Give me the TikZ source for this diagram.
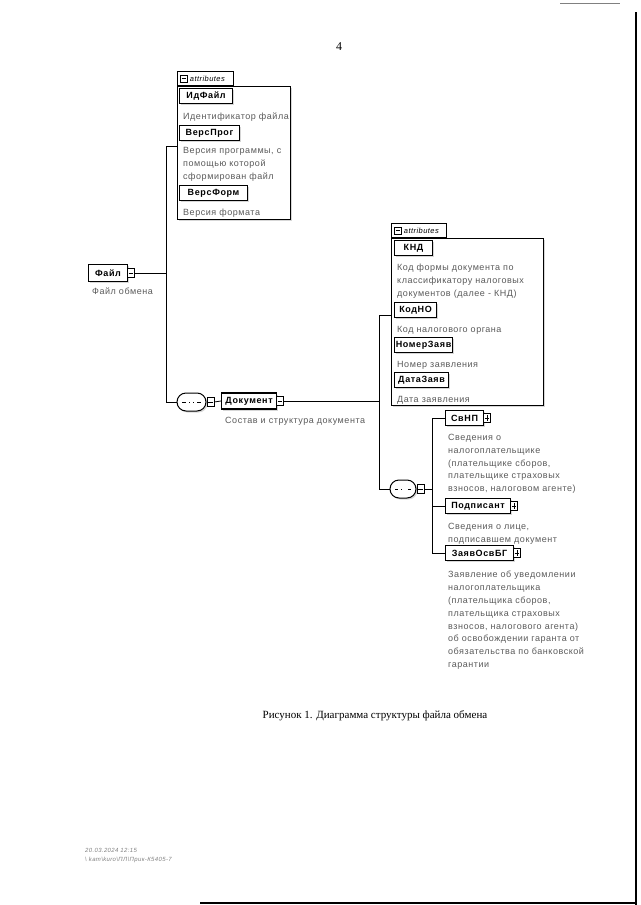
\documentclass[tikz,border=0pt]{standalone}
\usepackage{fontspec}
\setmainfont{Liberation Serif}
\newfontfamily\diafont[LetterSpace=6]{Liberation Sans}
\newfontfamily\tagfont[LetterSpace=7]{Liberation Sans}
\usetikzlibrary{positioning,shapes.misc,shadows}
\definecolor{desctext}{RGB}{90,90,90}
\definecolor{shadowgray}{RGB}{175,175,175}
\tikzset{
  elem/.style={rectangle,draw=black,line width=1.1pt,fill=white,font=\tagfont\bfseries\fontsize{9}{10}\selectfont,inner sep=0pt,minimum height=15pt,anchor=west,drop shadow={shadow xshift=1.5pt,shadow yshift=-1.5pt,fill=shadowgray}},
  desc/.style={font=\diafont\fontsize{9}{12.8}\selectfont,text=desctext,align=left,inner sep=0pt,anchor=north west},
  grp/.style={rectangle,draw=black,line width=0.7pt,fill=white,anchor=north west,inner sep=0pt,drop shadow={shadow xshift=1.5pt,shadow yshift=-1.5pt,fill=shadowgray}},
  grptab/.style={rectangle,draw=black,line width=0.7pt,fill=white,anchor=south west,minimum height=14pt,inner sep=0pt,font=\diafont\itshape\fontsize{7.5}{8}\selectfont},
  iconbox/.style={rectangle,draw=black,line width=0.6pt,fill=white,minimum width=7pt,minimum height=9pt,inner sep=0pt,anchor=west},
  minusicon/.style={iconbox,path picture={\draw[line width=0.6pt] ([xshift=1.3pt]path picture bounding box.west) -- ([xshift=-1.3pt]path picture bounding box.east);}},
  plusicon/.style={iconbox,path picture={\draw[line width=0.6pt] ([xshift=1.3pt]path picture bounding box.west) -- ([xshift=-1.3pt]path picture bounding box.east) ([yshift=-1.3pt]path picture bounding box.north) -- ([yshift=1.3pt]path picture bounding box.south);}},
  tabicon/.style={minusicon,minimum width=7pt,minimum height=7pt},
  seq/.style={rounded rectangle,draw=black,line width=1pt,fill=white,inner sep=0pt,minimum height=18pt,drop shadow={shadow xshift=1.5pt,shadow yshift=-1.5pt,fill=shadowgray},
    path picture={\draw[line width=0.9pt] ([xshift=5pt]path picture bounding box.west) -- ([xshift=-5pt]path picture bounding box.east);
      \foreach \dx in {-3.6,0,3.6} \fill ([xshift=\dx pt]path picture bounding box.center) +(-1.5pt,-1.5pt) rectangle +(1.5pt,1.5pt);}},
  link/.style={draw=black,line width=0.8pt}
}

\begin{document}
\begin{tikzpicture}[x=1pt,y=-1pt]
  \useasboundingbox (0,0) rectangle (640,905);
  % page number
  \node[font=\fontsize{12}{14}\selectfont] (pageno) at (339,47) {4};

  % attributes of the root
  \node[grp,minimum width=113pt,minimum height=133pt] (attrA) at (177,86) {};
  \node[grptab,minimum width=56pt] (tabA) at (attrA.north west) {};
  \node[tabicon] (tabIconA) at ([xshift=3pt]tabA.west) {};
  \node[grptab,draw=none,fill=none,anchor=west,right=2pt of tabIconA] (tabTextA) {attributes};
  \node[elem,minimum width=53pt] (idFile) at (179,96) {ИдФайл};
  \node[desc,below right=9pt and 4pt of idFile.south west] (idFileD) {Идентификатор файла};
  \node[elem,minimum width=60pt] (versProg) at (179,133) {ВерсПрог};
  \node[desc,below right=6pt and 4pt of versProg.south west] (versProgD) {Версия программы, с\\помощью которой\\сформирован файл};
  \node[elem,minimum width=68pt] (versForm) at (179,193) {ВерсФорм};
  \node[desc,below right=8pt and 4pt of versForm.south west] (versFormD) {Версия формата};

  % root element
  \node[elem,minimum width=39pt,minimum height=17pt] (fileBox) at (88,273) {Файл};
  \node[minusicon] (fileMinus) at ([xshift=-1pt]fileBox.east) {};
  \node[desc,below right=6pt and 4pt of fileBox.south west] (fileD) {Файл обмена};

  % sequence under the root
  \node[seq,minimum width=29pt] (seqA) at (191.5,402) {};
  \node[minusicon] (seqAMinus) at (seqA.east) {};
  \node[elem,minimum width=55pt,minimum height=16pt] (docBox) at (221,401) {Документ};
  \node[minusicon] (docMinus) at ([xshift=-1pt]docBox.east) {};
  \node[desc,below right=7pt and 4pt of docBox.south west] (docD) {Состав и структура документа};

  % attributes of the document
  \node[grp,minimum width=152pt,minimum height=167pt] (attrB) at (391,238) {};
  \node[grptab,minimum width=55pt] (tabB) at (attrB.north west) {};
  \node[tabicon] (tabIconB) at ([xshift=3pt]tabB.west) {};
  \node[grptab,draw=none,fill=none,anchor=west,right=2pt of tabIconB] (tabTextB) {attributes};
  \node[elem,minimum width=38pt] (knd) at (394,248) {КНД};
  \node[desc,below right=8pt and 3pt of knd.south west] (kndD) {Код формы документа по\\классификатору налоговых\\документов (далее - КНД)};
  \node[elem,minimum width=42pt] (kodNO) at (394,310) {КодНО};
  \node[desc,below right=8pt and 3pt of kodNO.south west] (kodNOD) {Код налогового органа};
  \node[elem,minimum width=58pt] (nomZ) at (394,345) {НомерЗаяв};
  \node[desc,below right=8pt and 3pt of nomZ.south west] (nomZD) {Номер заявления};
  \node[elem,minimum width=54pt] (datZ) at (394,380) {ДатаЗаяв};
  \node[desc,below right=8pt and 3pt of datZ.south west] (datZD) {Дата заявления};

  % sequence inside the document
  \node[seq,minimum width=26pt] (seqB) at (403,489) {};
  \node[minusicon] (seqBMinus) at (seqB.east) {};
  \node[elem,minimum width=38pt] (svNP) at (445,418) {СвНП};
  \node[plusicon] (svNPPlus) at ([xshift=-1pt]svNP.east) {};
  \node[desc,below right=8pt and 3pt of svNP.south west] (svNPD) {Сведения о\\налогоплательщике\\(плательщике сборов,\\плательщике страховых\\взносов, налоговом агенте)};
  \node[elem,minimum width=65pt] (podp) at (445,506) {Подписант};
  \node[plusicon] (podpPlus) at ([xshift=-1pt]podp.east) {};
  \node[desc,below right=9pt and 3pt of podp.south west] (podpD) {Сведения о лице,\\подписавшем документ};
  \node[elem,minimum width=68pt] (zayav) at (445,553) {ЗаявОсвБГ};
  \node[plusicon] (zayavPlus) at ([xshift=-1pt]zayav.east) {};
  \node[desc,below right=10pt and 3pt of zayav.south west] (zayavD) {Заявление об уведомлении\\налогоплательщика\\(плательщика сборов,\\плательщика страховых\\взносов, налогового агента)\\об освобождении гаранта от\\обязательства по банковской\\гарантии};

  % connectors
  \coordinate (busA) at (166,146);
  \coordinate (busB) at (166,402);
  \coordinate (busC) at (379,315);
  \coordinate (busD) at (379,489);
  \coordinate (busE) at (432,418);
  \coordinate (busF) at (432,553);
  \draw[link] (fileMinus.east) -- (fileMinus.east -| busA);
  \draw[link] (attrA.west |- busA) -- (busA) -- (busB) -- (seqA.west);
  \draw[link] (seqAMinus.east) -- (docBox.west);
  \draw[link] (docMinus.east) -- (docMinus.east -| busC);
  \draw[link] (attrB.west |- busC) -- (busC) -- (busD) -- (seqB.west);
  \draw[link] (seqBMinus.east) -- (seqBMinus.east -| busE);
  \draw[link] (svNP.west) -- (busE) -- (busF) -- (zayav.west);
  \draw[link] (podp.west) -- (podp.west -| busE);

  % caption
  \node[font=\fontsize{11}{13}\selectfont] (caption) at (375,716) {Рисунок 1. Диаграмма структуры файла обмена};

  % stamp at the foot of the page
  \node[font=\diafont\itshape\fontsize{6}{9.5}\selectfont,text=gray,align=left,anchor=north west,inner sep=0pt] (stamp) at (85,848) {20.03.2024 12:15\\\textbackslash\ kam\textbackslash kuro\textbackslash ПЛ\textbackslash Прик-К5405-7};

  % edges of the scanned sheet
  \draw[line width=2pt] (636,12) -- (636,905);
  \draw[line width=1pt,gray] (560,3) -- (620,3);
  \draw[line width=1.5pt] (200,903) -- (636,903);
\end{tikzpicture}
\end{document}
